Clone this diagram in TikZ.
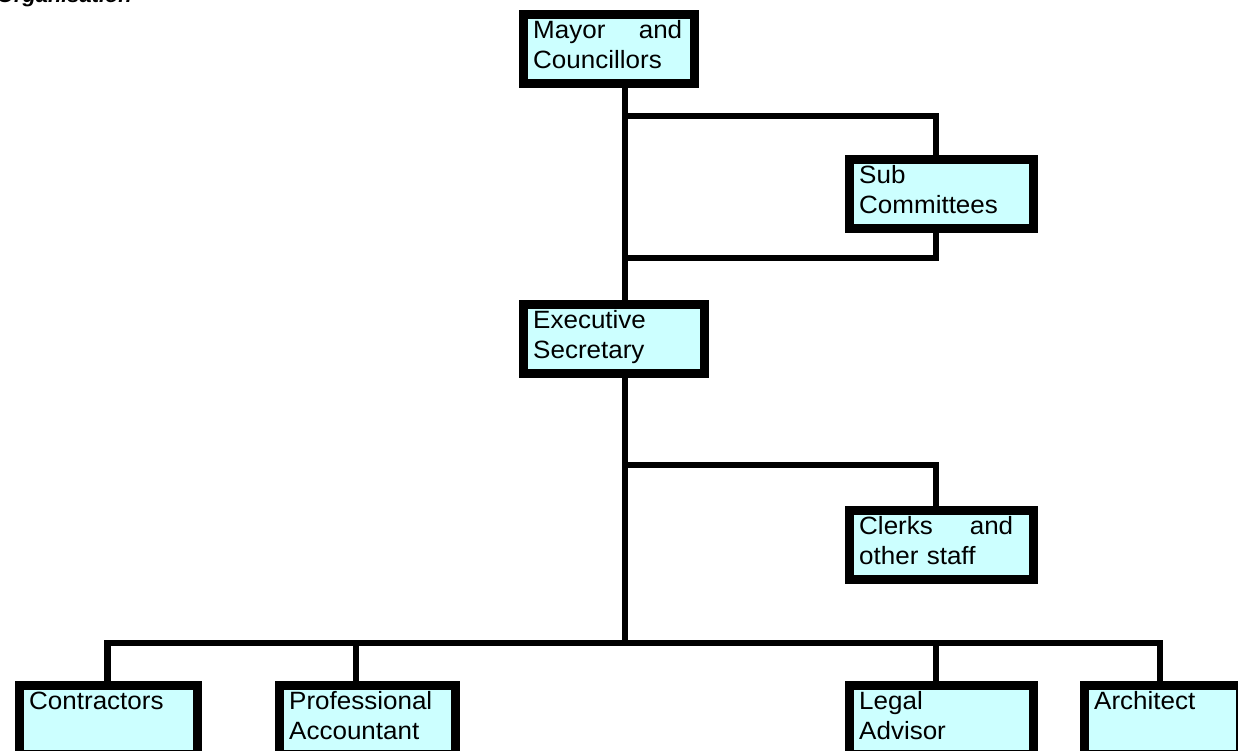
\documentclass[tikz,border=0pt]{standalone}
\usepackage{fontspec}
\setmainfont{Liberation Sans}[FakeStretch=1.04]
\usetikzlibrary{calc}

\definecolor{unitfill}{HTML}{CCFFFF}

\tikzset{
	unit/.style={draw=black, line width=9pt, fill=unitfill, anchor=north west,
		minimum height=69pt, inner sep=0pt},
	unittext/.style={anchor=base west, inner sep=0pt, align=left,
		font=\fontsize{25}{30}\selectfont},
	link/.style={draw=black, line width=6.5pt, line join=miter},
}

\begin{document}
\begin{tikzpicture}[x=1pt, y=-1pt]

	\useasboundingbox (0,0) rectangle (1238,751);

	\coordinate (trunk) at (625,0);
	\coordinate (branch) at (936,0);
	\coordinate (sub_in) at (0,116);
	\coordinate (sub_out) at (0,258);
	\coordinate (clerks_in) at (0,465);
	\coordinate (bar_c) at (107.5,643);
	\coordinate (bar_p) at (356,643);
	\coordinate (bar_l) at (936,643);
	\coordinate (bar_a) at (1160,643);

	% Title (cut by the page edge)
	\node[anchor=base east, inner sep=0pt,
		font=\fontsize{21}{24}\selectfont\bfseries\itshape] (title) at (132,3) {Organisation};

	% Units
	\node[unit, minimum width=171pt] (mayor) at (518.5,10.5) {};
	\node[unit, minimum width=184pt] (sub) at (844.5,155.5) {};
	\node[unit, minimum width=181pt] (exec) at (518.5,299.5) {};
	\node[unit, minimum width=184pt] (clerks) at (844.5,505.5) {};
	\node[unit, minimum width=178pt] (contractors) at (14.5,680.5) {};
	\node[unit, minimum width=176pt] (accountant) at (274.5,680.5) {};
	\node[unit, minimum width=184pt] (legal) at (844.5,680.5) {};
	\node[unit, minimum width=156pt] (architect) at (1079.5,680.5) {};

	% Connectors
	\draw[link] (mayor.south -| trunk) -- (exec.north -| trunk);
	\draw[link] (trunk |- sub_in) -- (branch |- sub_in) -- (sub.north -| branch);
	\draw[link] (sub.south -| branch) -- (branch |- sub_out) -- (trunk |- sub_out);
	\draw[link] (exec.south -| trunk) -- (trunk |- bar_c);
	\draw[link] (trunk |- clerks_in) -- (branch |- clerks_in) -- (clerks.north -| branch);
	\draw[link] (contractors.north -| bar_c) -- (bar_c) -- (bar_a) -- (architect.north -| bar_a);
	\draw[link] (bar_p) -- (accountant.north -| bar_p);
	\draw[link] (bar_l) -- (legal.north -| bar_l);

	% Labels
	\node[unittext, text width=149pt] (mayor_text) at (533,39) {Mayor\hfill and\\Councillors};
	\node[unittext, text width=160pt] (sub_text) at (859,184) {Sub\\Committees};
	\node[unittext, text width=160pt] (exec_text) at (533,328) {Executive\\Secretary};
	\node[unittext, text width=154pt] (clerks_text) at (859,534) {Clerks\hfill and\\other staff};
	\node[unittext, text width=160pt] (contractors_text) at (29,709) {Contractors};
	\node[unittext, text width=160pt] (accountant_text) at (289,709) {Professional\\Accountant};
	\node[unittext, text width=160pt] (legal_text) at (859,709) {Legal\\Advisor};
	\node[unittext, text width=140pt] (architect_text) at (1094,709) {Architect};

\end{tikzpicture}
\end{document}
